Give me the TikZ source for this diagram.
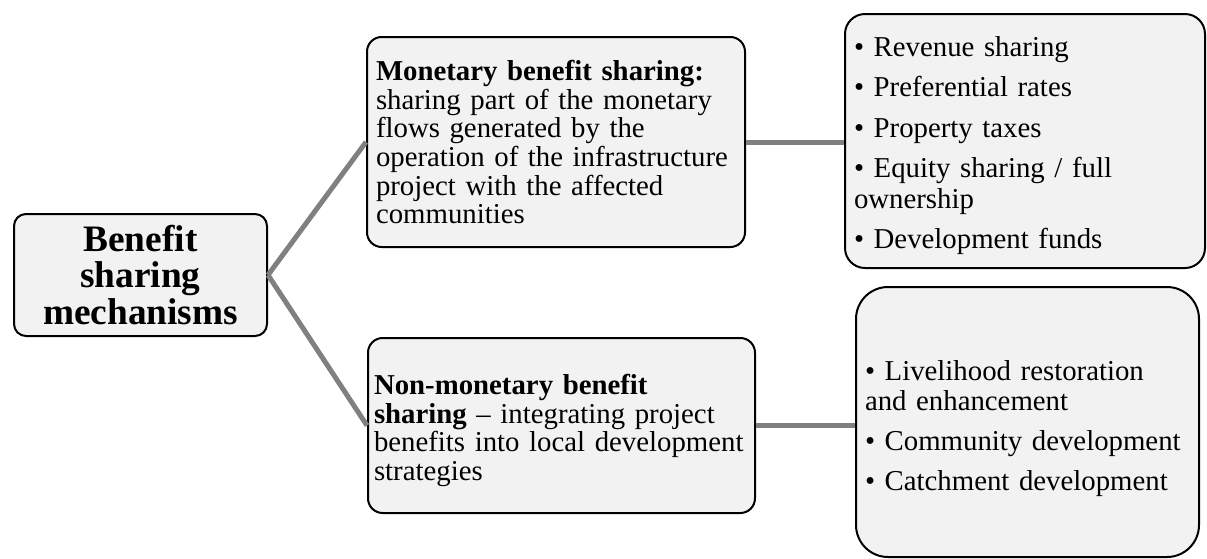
\documentclass[tikz,border=0pt]{standalone}
\usepackage{fontspec}
\setmainfont{Liberation Serif}

\begin{document}
\begin{tikzpicture}[x=0.75pt,y=0.75pt,yscale=-1,xscale=1,
  box/.style={draw=black, fill={rgb, 255:red, 242; green, 242; blue, 242 }, line width=1.5pt,
    inner xsep=6.75pt, inner ysep=0pt, align=left, font=\fontsize{21.6}{21.5}\selectfont,
    execute at begin node={\hyphenpenalty=10000\relax}},
  link/.style={draw={rgb, 255:red, 128; green, 128; blue, 128 }, line width=3.75pt}]
\useasboundingbox (0,0) rectangle (1207,558);

%Shape: Rounded Rect [id:root]
\node [box, align=center, text width=176.25pt, minimum height=91.5pt, rounded corners=9pt,
  font=\fontsize{28}{27.5}\selectfont\bfseries] (root) at (140.5,275) {Benefit\\sharing\\mechanisms};
%Shape: Rounded Rect [id:mon]
\node [box, text width=270pt, minimum height=157.5pt, rounded corners=11pt] (mon) at (556,142)
  {\textbf{Monetary benefit sharing:}\\sharing part of the monetary\\flows generated by the\\operation of the infrastructure\\project with the affected\\communities};
%Shape: Rounded Rect [id:monlist]
\node [box, text width=256.5pt, minimum height=190.5pt, rounded corners=15pt,
  font=\fontsize{21.6}{23.25}\selectfont] (monlist) at (1025,141)
  {\rule{0pt}{22.3pt}• Revenue sharing\\[7pt]• Preferential rates\\[7pt]• Property taxes\\[7pt]• Equity sharing / full\\ownership\\[7pt]• Development funds};
%Shape: Rounded Rect [id:non]
\node [box, inner xsep=4.5pt, text width=281.25pt, minimum height=131.25pt, rounded corners=11pt,
  font=\fontsize{21.6}{21.5}\selectfont] (non) at (561.5,425.5)
  {\rule{0pt}{22.4pt}\textbf{Non-monetary benefit}\\\textbf{sharing} – integrating project\\benefits into local development\\strategies};
%Shape: Rounded Rect [id:nonlist]
\node [box, text width=243.75pt, minimum height=202.5pt, rounded corners=24pt,
  font=\fontsize{21.6}{22.5}\selectfont] (nonlist) at (1027.5,422)
  {\rule{0pt}{25.3pt}• Livelihood restoration\\and enhancement\\[7.5pt]• Community development\\[7.5pt]• Catchment development};

%Straight Lines
\draw [link] (root.east) -- (mon.west);
\draw [link] (root.east) -- (non.west);
\draw [link] (mon.east) -- (monlist.west |- mon.east);
\draw [link] (non.east) -- (nonlist.west |- non.east);

\end{tikzpicture}
\end{document}
